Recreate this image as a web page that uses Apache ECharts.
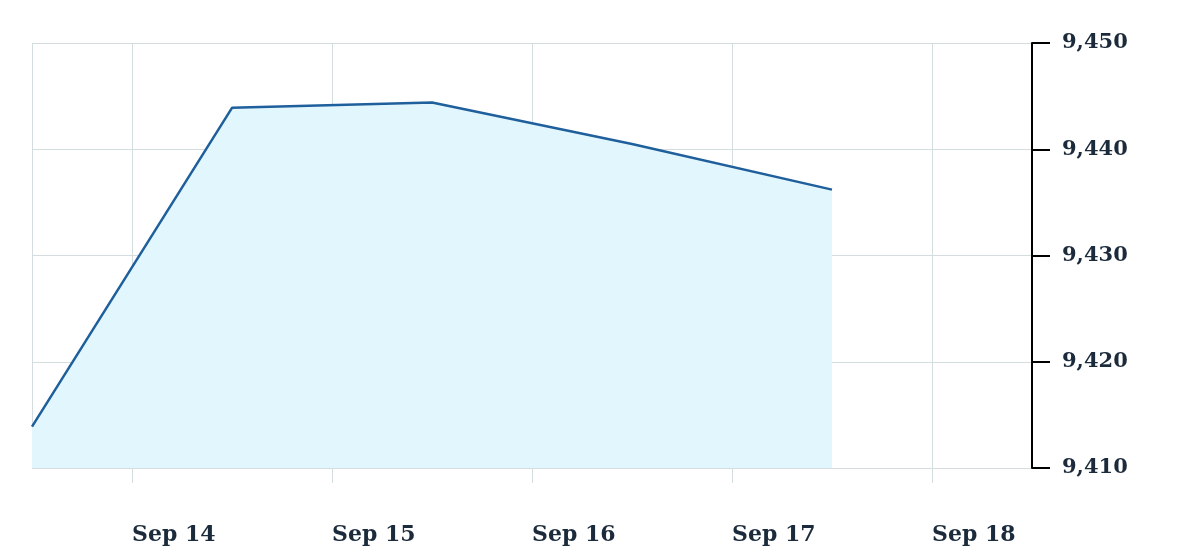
<!DOCTYPE html>
<html>
<head>
<meta charset="utf-8">
<script src="https://cdn.jsdelivr.net/npm/echarts@6/dist/echarts.min.js"></script>
<style>
    html, body { margin: 0; padding: 0; background: #fff; }
    #chart { width: 1200px; height: 556px; }
</style>
</head>
<body>
<div id="chart"></div>
<script>
// readings are taken at noon each day
const days = [13, 14, 15, 16, 17];
const values = [9413.9, 9443.9, 9444.4, 9440.5, 9436.2];
const yTicks = [9410, 9420, 9430, 9440, 9450];
const monthNames = ['Jan', 'Feb', 'Mar', 'Apr', 'May', 'Jun', 'Jul', 'Aug', 'Sep', 'Oct', 'Nov', 'Dec'];

const seriesData = days.map((d, i) => [new Date(2023, 8, d, 12).getTime(), values[i]]);
const dayMs = 86400000;

const chart = echarts.init(document.getElementById('chart'));
chart.setOption({
    animation: false,
    grid: { left: 32, right: 168, top: 43, bottom: 88 },
    xAxis: {
        type: 'time',
        min: new Date(2023, 8, 13, 12).getTime(),
        max: new Date(2023, 8, 18, 12).getTime(),
        minInterval: dayMs,
        maxInterval: dayMs,
        axisLine: { show: false },
        axisTick: { show: true, length: 15, lineStyle: { color: '#d3dcdf' } },
        splitLine: { show: true, lineStyle: { color: '#d3dcdf', width: 1 } },
        axisLabel: {
            margin: 56,
            align: 'left',
            showMinLabel: false,
            showMaxLabel: false,
            color: '#1c2b3c',
            fontFamily: 'DejaVu Serif',
            fontWeight: 'bold',
            fontSize: 22,
            formatter: function (val) {
                const d = new Date(val);
                return monthNames[d.getMonth()] + ' ' + d.getDate();
            }
        }
    },
    yAxis: {
        type: 'value',
        position: 'right',
        min: yTicks[0],
        max: yTicks[yTicks.length - 1],
        interval: 10,
        axisLine: { show: true, lineStyle: { color: '#000', width: 2 } },
        axisTick: { show: true, inside: false, length: 18, lineStyle: { color: '#000', width: 2 } },
        splitLine: { show: true, lineStyle: { color: '#d3dcdf', width: 1 } },
        axisLabel: {
            margin: 30,
            color: '#1c2b3c',
            fontFamily: 'DejaVu Serif',
            fontWeight: 'bold',
            fontSize: 21,
            formatter: function (v) { return v.toLocaleString('en-US'); }
        }
    },
    series: [{
        type: 'line',
        data: seriesData,
        symbol: 'none',
        lineStyle: { color: '#1f5f9c', width: 2.5 },
        areaStyle: { color: '#e2f6fd', opacity: 1, origin: 'start' }
    }]
});
</script>
</body>
</html>
